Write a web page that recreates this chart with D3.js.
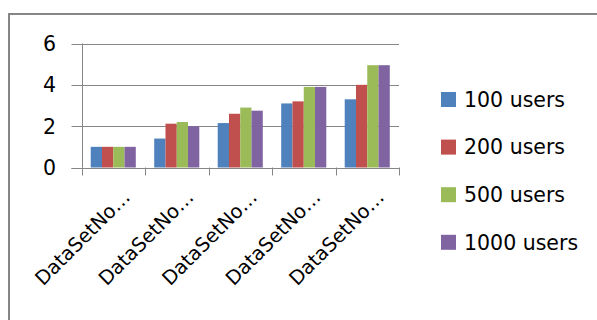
<!DOCTYPE html>
<html>
<head>
<meta charset="utf-8">
<script src="https://cdn.jsdelivr.net/npm/d3@7"></script>
<style>
  html, body { margin: 0; padding: 0; background: #fff; }
  svg { display: block; }
  text { font-family: "DejaVu Sans", sans-serif; fill: #000; }
</style>
</head>
<body>
<svg id="chart" width="597" height="320"></svg>
<script>
// Chart data
const categories = ["DataSetNo…1", "DataSetNo…2", "DataSetNo…3", "DataSetNo…4", "DataSetNo…5"];
const seriesNames = ["100 users", "200 users", "500 users", "1000 users"];
const users100  = [1.0, 1.4, 2.15, 3.1, 3.3];
const users200  = [1.0, 2.12, 2.6, 3.2, 4.0];
const users500  = [1.0, 2.2, 2.9, 3.9, 4.95];
const users1000 = [1.0, 2.0, 2.75, 3.9, 4.95];
const yTicks = [0, 2, 4, 6];
const colors = ["#4F81BD", "#C0504D", "#9BBB59", "#8064A2"];

const seriesValues = [users100, users200, users500, users1000];

const svg = d3.select("#chart");

// Outer chart frame (top and left edges)
svg.append("line").attr("x1", 8).attr("x2", 597).attr("y1", 14).attr("y2", 14)
  .attr("stroke", "#868686").attr("stroke-width", 2);
svg.append("line").attr("x1", 9).attr("x2", 9).attr("y1", 13).attr("y2", 320)
  .attr("stroke", "#868686").attr("stroke-width", 2);

const plot = { left: 81.5, right: 399, top: 43.5, bottom: 167.5 };

const x = d3.scaleBand().domain(d3.range(categories.length))
  .range([plot.left, plot.right]).padding(0);
const xSub = d3.scaleBand().domain(d3.range(seriesNames.length))
  .range([x.bandwidth() * 0.145, x.bandwidth() * 0.855]).padding(0);
const y = d3.scaleLinear().domain([0, 6]).range([plot.bottom, plot.top]);

// Horizontal gridlines, extended left as tick marks
svg.append("g").selectAll("line").data(yTicks).join("line")
  .attr("x1", plot.left - 10).attr("x2", plot.right)
  .attr("y1", d => Math.round(y(d)) + 0.5).attr("y2", d => Math.round(y(d)) + 0.5)
  .attr("stroke", "#868686").attr("stroke-width", 1);

// Value axis line
svg.append("line").attr("x1", Math.round(plot.left) + 0.5).attr("x2", Math.round(plot.left) + 0.5)
  .attr("y1", plot.top).attr("y2", plot.bottom)
  .attr("stroke", "#868686");

// Category tick marks
const boundaries = d3.range(categories.length + 1).map(i => plot.left + i * x.bandwidth());
svg.append("g").selectAll("line").data(boundaries).join("line")
  .attr("x1", d => Math.round(d) + 0.5).attr("x2", d => Math.round(d) + 0.5)
  .attr("y1", plot.bottom).attr("y2", plot.bottom + 8)
  .attr("stroke", "#868686");

// Y tick labels
svg.append("g").selectAll("text").data(yTicks).join("text")
  .attr("x", 56).attr("y", d => y(d)).attr("dy", "0.36em")
  .attr("text-anchor", "end").attr("font-size", 20.5)
  .text(d => d);

// Bars
const groups = svg.append("g").selectAll("g").data(categories).join("g")
  .attr("transform", (d, i) => `translate(${x(i)},0)`);
groups.selectAll("rect")
  .data((d, i) => seriesValues.map((vals, s) => ({ s, v: vals[i] })))
  .join("rect")
  .attr("x", d => xSub(d.s))
  .attr("width", xSub.bandwidth())
  .attr("y", d => y(d.v))
  .attr("height", d => y(0) - y(d.v))
  .attr("fill", d => colors[d.s]);

// Redraw the baseline above the bars
svg.append("line").attr("x1", plot.left - 10).attr("x2", plot.right)
  .attr("y1", Math.round(y(0)) + 0.5).attr("y2", Math.round(y(0)) + 0.5)
  .attr("stroke", "#868686");

// Rotated category labels
svg.append("g").selectAll("text").data(categories).join("text")
  .attr("transform", (d, i) => `translate(${x(i) + x.bandwidth() / 2 + 18},${plot.bottom + 31}) rotate(-45)`)
  .attr("text-anchor", "end").attr("font-size", 19.5)
  .text(d => d.slice(0, 10));

// Legend
const legend = svg.append("g").selectAll("g").data(seriesNames).join("g")
  .attr("transform", (d, i) => `translate(441,${99.5 + i * 47.6})`);
legend.append("rect").attr("x", 0).attr("y", -7.5).attr("width", 15).attr("height", 15)
  .attr("fill", (d, i) => colors[i]);
legend.append("text").attr("x", 23).attr("y", 0).attr("dy", "0.36em")
  .attr("font-size", 20.5).text(d => d);
</script>
</body>
</html>
